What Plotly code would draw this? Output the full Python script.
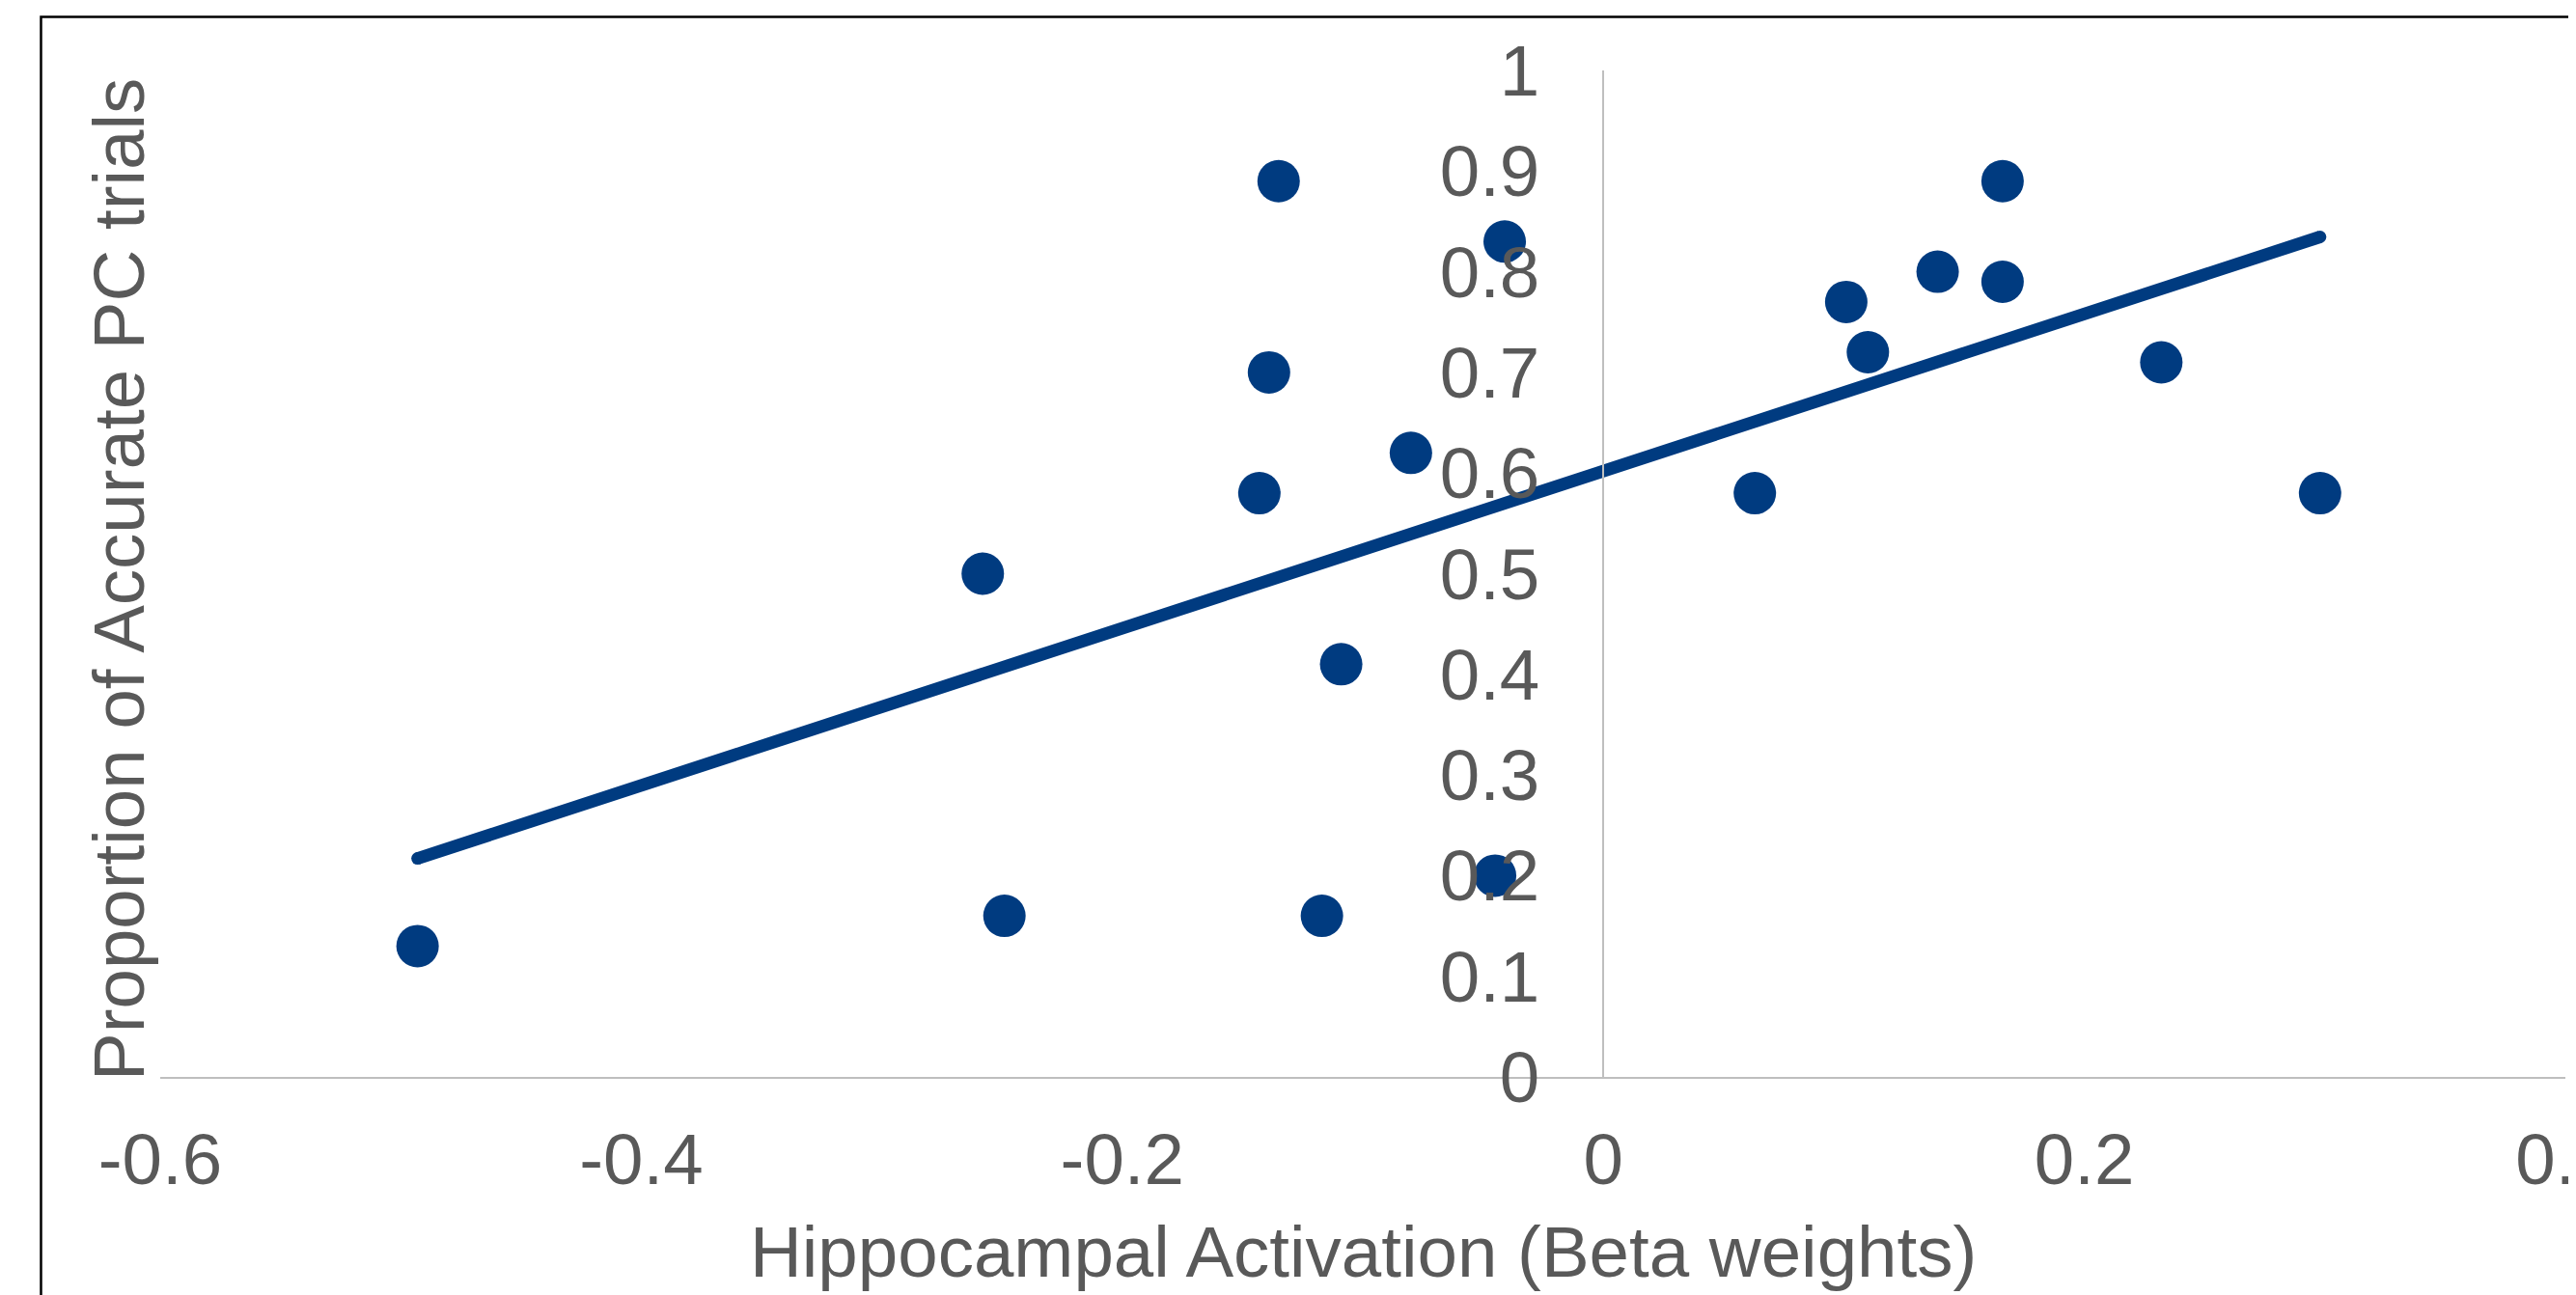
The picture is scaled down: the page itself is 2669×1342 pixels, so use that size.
import numpy as np
import plotly.graph_objects as go

# Data
beta = [-0.493, -0.258, -0.249, -0.135, -0.041, -0.139, -0.080, -0.143, -0.109,
        -0.045, -0.117, 0.166, 0.139, 0.166, 0.101, 0.110, 0.063, 0.232, 0.298]
accuracy = [0.13, 0.50, 0.16, 0.89, 0.83, 0.70, 0.62, 0.58, 0.41,
            0.20, 0.16, 0.89, 0.80, 0.79, 0.77, 0.72, 0.58, 0.71, 0.58]

x_tickvals = [-0.6, -0.4, -0.2, 0, 0.2, 0.4]
x_ticktext = ["-0.6", "-0.4", "-0.2", "0", "0.2", "0.4"]
y_tickvals = [0, 0.1, 0.2, 0.3, 0.4, 0.5, 0.6, 0.7, 0.8, 0.9, 1]
y_ticktext = ["0", "0.1", "0.2", "0.3", "0.4", "0.5", "0.6", "0.7", "0.8", "0.9", "1"]

x_title = "Hippocampal Activation (Beta weights)"
y_title = "Proportion of Accurate PC trials"

# Linear trendline (least squares) over the data range
slope, intercept = np.polyfit(beta, accuracy, 1)
trend_x = [min(beta), max(beta)]
trend_y = [slope * v + intercept for v in trend_x]

BLUE = "#003B80"
GRAY_TXT = "#595959"
AXIS = "#BFBFBF"
FONT = "Liberation Sans, Arial, sans-serif"
FS = 74.5

# the page body adds an 8px offset; work in window pixels and compensate
OFF = 8
W, H = 2669 - OFF, 1342 - OFF
ml = 166 - OFF
mt = 73 - OFF
plot_right = 2657.7 - OFF
plot_bottom = 1116 - OFF
mr = W - plot_right
mb = H - plot_bottom
pw = W - ml - mr
ph = H - mt - mb

def px_to_paper_x(px):
    return (px - OFF - ml) / pw

def py_to_paper_y(py):
    return (plot_bottom - (py - OFF)) / ph

fig = go.Figure()
fig.add_trace(go.Scatter(
    x=trend_x, y=trend_y, mode="lines+markers",
    line=dict(color=BLUE, width=13),
    marker=dict(color=BLUE, size=13, line=dict(width=0)),
    hoverinfo="skip", showlegend=False,
))
fig.add_trace(go.Scatter(
    x=beta, y=accuracy, mode="markers",
    marker=dict(color=BLUE, size=44, line=dict(width=0)),
    showlegend=False,
))

fig.update_layout(
    width=W, height=H,
    margin=dict(l=ml, r=mr, t=mt, b=mb, pad=0),
    paper_bgcolor="white", plot_bgcolor="white",
    font=dict(family=FONT, color=GRAY_TXT, size=FS),
    showlegend=False,
    xaxis=dict(
        range=[-0.6, 0.4], tickvals=x_tickvals, ticktext=x_ticktext,
        showgrid=False, zeroline=False, showline=True, linecolor=AXIS, linewidth=2,
        ticks="", tickfont=dict(size=FS, color=GRAY_TXT, family=FONT),
        ticklabelstandoff=20, automargin=False, ticklabeloverflow="allow",
    ),
    yaxis=dict(
        range=[0, 1], tickvals=y_tickvals, ticktext=y_ticktext,
        anchor="free", position=0.6,
        showgrid=False, zeroline=False, showline=True, linecolor=AXIS, linewidth=2,
        ticks="", tickfont=dict(size=FS, color=GRAY_TXT, family=FONT),
        ticklabelstandoff=50, automargin=False, ticklabeloverflow="allow",
    ),
    annotations=[
        dict(text=x_title, xref="paper", yref="paper",
             x=0.5, y=py_to_paper_y(1297), xanchor="center", yanchor="middle",
             showarrow=False, font=dict(size=FS, color=GRAY_TXT, family=FONT)),
        dict(text=y_title, xref="paper", yref="paper", textangle=-90,
             x=px_to_paper_x(123), y=py_to_paper_y(600), xanchor="center", yanchor="middle",
             showarrow=False, font=dict(size=FS, color=GRAY_TXT, family=FONT)),
    ],
    shapes=[
        dict(type="rect", xref="paper", yref="paper",
             x0=px_to_paper_x(42.5), x1=px_to_paper_x(2669 + 40),
             y0=py_to_paper_y(1342 + 40), y1=py_to_paper_y(17.5),
             line=dict(color="black", width=2.5), fillcolor="rgba(0,0,0,0)", layer="above"),
    ],
)

fig.write_html("out.html")
